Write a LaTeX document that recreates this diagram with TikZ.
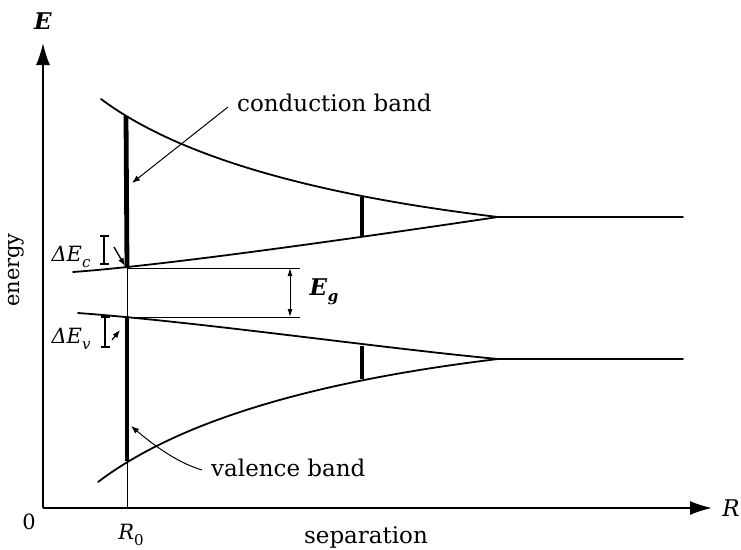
\documentclass[tikz,border=0pt]{standalone}
\usepackage{fontspec}
\setmainfont{DejaVu Serif}
\usetikzlibrary{arrows.meta}
\newcommand{\bfE}{{\bfseries\itshape E}}
\newcommand{\sbs}[1]{\raisebox{-0.28em}{\fontsize{15}{15}\selectfont #1}}
\begin{document}
\begin{tikzpicture}[x=1pt,y=-1pt,
  band/.style={line width=1.8pt,line cap=round},
  thin/.style={line width=0.9pt},
  thick bar/.style={line width=4.8pt},
  axis/.style={line width=1.6pt,-{Latex[length=22pt,width=14pt]}},
  lbl/.style={font=\fontsize{21}{24}\selectfont,inner sep=0pt},
  big/.style={font=\fontsize{23}{26}\selectfont,inner sep=0pt},
  ptr/.style={line width=1pt,-{Latex[length=8pt,width=6pt]}},
  ibar/.style={line width=1.6pt,{Bar[width=9pt]}-{Bar[width=9pt]}},
  garrow/.style={line width=0.9pt,{Latex[length=8pt,width=5pt]}-{Latex[length=8pt,width=5pt]}}]
\useasboundingbox (0,0) rectangle (741,549);
% axes
\coordinate (O) at (43,508);
\coordinate (Etip) at (43,43);
\coordinate (Rtip) at (712,508);
\draw[axis] (O) -- (Etip);
\draw[axis] (O) -- (Rtip);
\node[big] (Elab) at (43,21) {\bfE};
\node[big] (Rlab) at (731,508) {\itshape R};
\node[lbl] (zero) at (29,522) {0};
\node[lbl] (R0lab) at (131,535) {{\itshape R}\sbs{0}};
\node[big] (sep) at (366,537) {separation};
\node[inner sep=0pt,rotate=90,font=\fontsize{21}{24}\selectfont] (en) at (16,270) {energy};
% conduction band curves
\coordinate (cu0) at (101,99); \coordinate (cj) at (498,217); \coordinate (cend) at (683,217);
\draw[band] (cu0) .. controls (175.7,155) and (308,194.3) .. (cj) -- (cend);
\coordinate (cl0) at (73,272);
\draw[band] (cl0) .. controls (145.7,266.7) and (287.3,248.3) .. (cj);
% valence band curves
\coordinate (vu0) at (78,313); \coordinate (vj) at (498,359); \coordinate (vend) at (683,359);
\draw[band] (vu0) .. controls (200,322) and (380,348) .. (vj) -- (vend);
\coordinate (vl0) at (98,482);
\draw[band] (vl0) .. controls (176,422.7) and (309.3,381.7) .. (vj);
% R0 line and thick bars
\coordinate (R0top) at (127,268);
\coordinate (R0bot) at (127,508);
\draw[thin] (R0top) -- (R0bot);
\draw[thick bar] (126,116) -- (127,268);
\draw[thick bar] (127,316) -- (127,461);
\draw[line width=3.8pt] (362,197) -- (362,237);
\draw[line width=3.8pt] (362,346) -- (362,379);
% Eg lines
\coordinate (g1a) at (127,268); \coordinate (g1b) at (300,268);
\coordinate (g2a) at (127,317); \coordinate (g2b) at (300,317);
\draw[thin] (g1a) -- (g1b);
\draw[thin] (g2a) -- (g2b);
\coordinate (ga) at (290,268); \coordinate (gb) at (290,317);
\draw[garrow] (ga) -- (gb);
\node[big] (Eg) at (324,292) {\bfE\kern0.5pt\sbs{\bfseries\itshape g}};
% Delta E labels
\node[lbl] (dEc) at (71,257) {\itshape ΔE\sbs{c}};
\node[lbl] (dEv) at (71,339) {\itshape ΔE\sbs{v}};
\coordinate (c1) at (104,235); \coordinate (c2) at (104,265);
\draw[ibar] (c1) -- (c2);
\coordinate (v1) at (105,316); \coordinate (v2) at (105,348);
\draw[ibar] (v1) -- (v2);
\coordinate (ca) at (114,247); \coordinate (cb) at (125,266);
\draw[ptr,line width=1.4pt] (ca) -- (cb);
\coordinate (va) at (112,340); \coordinate (vb) at (120,330);
\draw[ptr,line width=1.2pt] (va) -- (vb);
% band labels and leaders
\node[big,anchor=west] (cond) at (237,103) {conduction band};
\node[big,anchor=west] (val) at (211,468) {valence band};
\coordinate (cl1) at (228,107); \coordinate (cl2) at (132,183);
\draw[ptr] (cl1) -- (cl2);
\coordinate (vl1) at (202,470); \coordinate (vl2) at (131,426);
\draw[ptr] (vl1) .. controls (175,462) and (150,442) .. (vl2);
\end{tikzpicture}
\end{document}
